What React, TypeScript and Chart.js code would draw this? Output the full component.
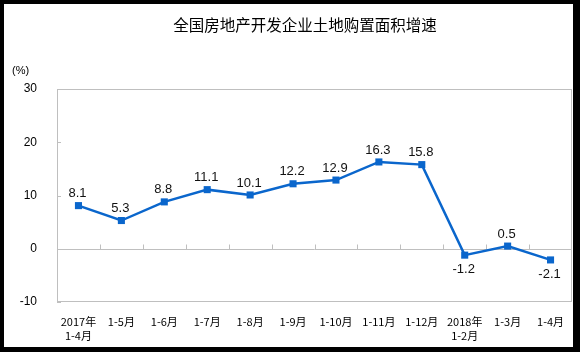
import React, { useEffect, useRef } from "react";
import { Chart, registerables } from "chart.js";

Chart.register(...registerables);

const title = "全国房地产开发企业土地购置面积增速";
const unitLabel = "(%)";
const categories: (string | string[])[] = [
  ["2017年", "1-4月"],
  "1-5月",
  "1-6月",
  "1-7月",
  "1-8月",
  "1-9月",
  "1-10月",
  "1-11月",
  "1-12月",
  ["2018年", "1-2月"],
  "1-3月",
  "1-4月",
];
const growth = [8.1, 5.3, 8.8, 11.1, 10.1, 12.2, 12.9, 16.3, 15.8, -1.2, 0.5, -2.1];
const yMin = -10;
const yMax = 30;
const yStep = 10;

const LINE_COLOR = "#0A66CC";
const AXIS_COLOR = "#BFBFBF";
const LATIN = "'Liberation Sans', Arial, 'Noto Sans CJK SC', sans-serif";
const CJK = "'Noto Sans CJK SC', 'Liberation Sans', sans-serif";

const framePlugin = {
  id: "frame",
  beforeDraw(chart: any) {
    const { ctx, width, height } = chart;
    ctx.save();
    ctx.fillStyle = "#000";
    ctx.fillRect(0, 0, width, height);
    ctx.fillStyle = "#fff";
    ctx.fillRect(4, 4, 569, 343);
    ctx.restore();
  },
  beforeDatasetsDraw(chart: any) {
    const { ctx, chartArea } = chart;
    const x = chart.scales.x;
    const y = chart.scales.y;
    ctx.save();
    ctx.strokeStyle = AXIS_COLOR;
    ctx.lineWidth = 1;
    ctx.strokeRect(
      Math.round(chartArea.left) + 0.5,
      Math.round(chartArea.top) + 0.5,
      Math.round(chartArea.right - chartArea.left) - 1,
      Math.round(chartArea.bottom - chartArea.top) - 1
    );
    const y0 = Math.round(y.getPixelForValue(0)) + 0.5;
    ctx.beginPath();
    ctx.moveTo(chartArea.left, y0);
    ctx.lineTo(chartArea.right, y0);
    ctx.stroke();
    const n = categories.length;
    for (let i = 1; i < n; i++) {
      const px = Math.round((x.getPixelForValue(i - 1) + x.getPixelForValue(i)) / 2) + 0.5;
      ctx.beginPath();
      ctx.moveTo(px, y0);
      ctx.lineTo(px, y0 - 5);
      ctx.stroke();
    }
    for (let v = yMin; v <= yMax; v += yStep) {
      const py = Math.round(y.getPixelForValue(v)) + 0.5;
      ctx.beginPath();
      ctx.moveTo(chartArea.left, py);
      ctx.lineTo(chartArea.left + 4, py);
      ctx.stroke();
    }
    ctx.restore();
  },
  afterDraw(chart: any) {
    const { ctx } = chart;
    ctx.save();
    ctx.fillStyle = "#000";
    ctx.textAlign = "center";
    ctx.textBaseline = "middle";
    ctx.font = `15.5px ${CJK}`;
    ctx.fillText(title, 305, 25);
    ctx.font = `11px ${LATIN}`;
    ctx.textAlign = "left";
    ctx.fillText(unitLabel, 12, 71);
    const meta = chart.getDatasetMeta(0);
    ctx.font = `13px ${LATIN}`;
    ctx.textAlign = "center";
    ctx.fillStyle = "#111";
    meta.data.forEach((pt: any, i: number) => {
      const v = growth[i];
      const ty = v >= 0 ? pt.y - 12 : pt.y + 14;
      ctx.fillText(v.toFixed(1), pt.x - 1, ty);
    });
    ctx.restore();
  },
};

export default function App() {
  const ref = useRef<HTMLCanvasElement>(null);
  useEffect(() => {
    if (!ref.current) return;
    const chart = new Chart(ref.current, {
      type: "line",
      data: {
        labels: categories,
        datasets: [
          {
            data: growth,
            borderColor: LINE_COLOR,
            backgroundColor: LINE_COLOR,
            borderWidth: 2.5,
            pointStyle: "rect",
            pointRadius: 5,
            pointBorderWidth: 0,
            tension: 0,
          },
        ],
      },
      options: {
        responsive: false,
        animation: false,
        layout: { padding: { top: 89, right: 8, left: 0, bottom: 0 } },
        plugins: {
          legend: { display: false },
          tooltip: { enabled: false },
          title: { display: false },
        },
        scales: {
          x: {
            offset: true,
            grid: { display: false, drawTicks: false },
            border: { display: false },
            ticks: {
              autoSkip: false,
              maxRotation: 0,
              minRotation: 0,
              padding: 12,
              color: "#000",
              font: { size: 11, family: CJK, lineHeight: 1.35 },
            },
            afterFit(scale: any) {
              scale.height = 50;
            },
          },
          y: {
            min: yMin,
            max: yMax,
            ticks: {
              stepSize: yStep,
              padding: 20,
              color: "#000",
              font: { size: 12, family: LATIN },
            },
            grid: { display: false, drawTicks: false },
            border: { display: false },
            afterFit(scale: any) {
              scale.width = 57;
            },
          },
        },
      },
      plugins: [framePlugin],
    });
    return () => chart.destroy();
  }, []);
  return (
    <div style={{ position: "absolute", left: 0, top: 0, width: 580, height: 352 }}>
      <canvas ref={ref} width={580} height={352} />
    </div>
  );
}
